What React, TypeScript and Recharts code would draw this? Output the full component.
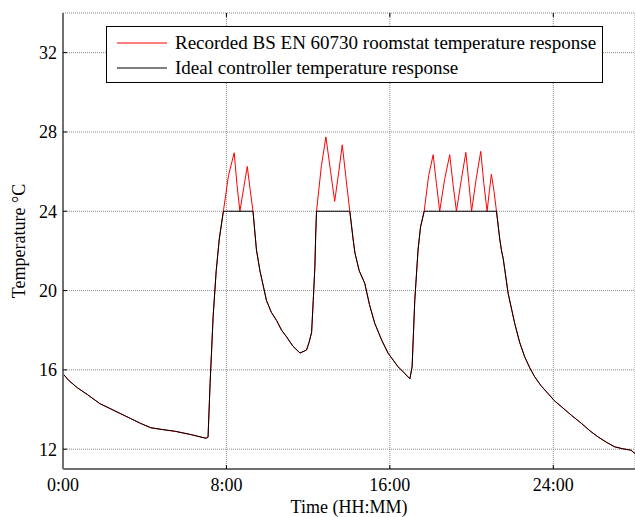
import { CartesianGrid, Legend, Line, LineChart, XAxis, YAxis } from "recharts";

// Time in hours since midnight, with the two temperature traces (°C).
const hours = [
  0, 0.3, 0.7, 1.2, 1.8, 2.3, 2.8, 3.3, 3.8, 4.3, 4.8, 5.5, 6.2, 6.6, 7.0, 7.1,
  7.2, 7.35, 7.5, 7.65, 7.85,
  8.1, 8.38, 8.52, 8.66, 8.85, 9.02, 9.16, 9.3,
  9.47, 9.64, 9.96, 10.2, 10.45, 10.7, 10.94, 11.25, 11.6, 11.92, 12.05, 12.17,
  12.25, 12.33, 12.37, 12.41,
  12.65, 12.87, 13.1, 13.3, 13.5, 13.67, 13.85, 14.04,
  14.2, 14.29, 14.5, 14.77, 15.0, 15.26, 15.6, 15.92, 16.4, 16.7, 16.98, 17.09,
  17.22, 17.38, 17.5, 17.68,
  17.9, 18.12, 18.28, 18.44, 18.68, 18.93, 19.1, 19.26, 19.5, 19.72, 19.87, 20.0,
  20.22, 20.45, 20.6, 20.76, 20.87, 20.97, 21.1, 21.22,
  21.38, 21.46, 21.55, 21.79, 22.11, 22.35, 22.6, 22.85, 23.09, 23.4, 23.74,
  24.05, 24.4, 24.9, 25.38, 25.8, 26.19, 26.6, 27.0, 27.4, 27.8, 28.0,
];

const recorded = [
  15.8, 15.45, 15.1, 14.75, 14.3, 14.05, 13.8, 13.55, 13.3, 13.08, 13.0, 12.9, 12.75, 12.65, 12.55, 12.6,
  15.3, 18.7, 21.0, 22.6, 24.0,
  25.8, 26.95, 25.3, 24.0, 25.2, 26.26, 25.1, 24.0,
  22.05, 21.0, 19.5, 18.9, 18.5, 18.0, 17.67, 17.2, 16.85, 17.0, 17.4, 17.9,
  19.5, 21.2, 22.8, 24.0,
  26.3, 27.75, 26.0, 24.5, 26.0, 27.35, 25.7, 24.0,
  22.6, 21.9, 21.0, 20.37, 19.3, 18.35, 17.5, 16.83, 16.16, 15.85, 15.55, 16.16,
  19.5, 22.05, 23.2, 24.0,
  25.8, 26.85, 25.4, 24.0, 25.6, 26.85, 25.3, 24.0, 25.6, 26.97, 25.4, 24.0,
  25.6, 27.02, 25.4, 24.0, 25.0, 25.87, 25.0, 24.0,
  22.6, 22.05, 21.6, 19.86, 18.35, 17.4, 16.66, 16.1, 15.65, 15.2, 14.81,
  14.45, 14.14, 13.7, 13.3, 12.92, 12.62, 12.35, 12.12, 12.02, 11.95, 11.78,
];

const ideal = [
  15.8, 15.45, 15.1, 14.75, 14.3, 14.05, 13.8, 13.55, 13.3, 13.08, 13.0, 12.9, 12.75, 12.65, 12.55, 12.6,
  15.3, 18.7, 21.0, 22.6, 24.0,
  24.0, 24.0, 24.0, 24.0, 24.0, 24.0, 24.0, 24.0,
  22.05, 21.0, 19.5, 18.9, 18.5, 18.0, 17.67, 17.2, 16.85, 17.0, 17.4, 17.9,
  19.5, 21.2, 22.8, 24.0,
  24.0, 24.0, 24.0, 24.0, 24.0, 24.0, 24.0, 24.0,
  22.6, 21.9, 21.0, 20.37, 19.3, 18.35, 17.5, 16.83, 16.16, 15.85, 15.55, 16.16,
  19.5, 22.05, 23.2, 24.0,
  24.0, 24.0, 24.0, 24.0, 24.0, 24.0, 24.0, 24.0, 24.0, 24.0, 24.0, 24.0,
  24.0, 24.0, 24.0, 24.0, 24.0, 24.0, 24.0, 24.0,
  22.6, 22.05, 21.6, 19.86, 18.35, 17.4, 16.66, 16.1, 15.65, 15.2, 14.81,
  14.45, 14.14, 13.7, 13.3, 12.92, 12.62, 12.35, 12.12, 12.02, 11.95, 11.78,
];

const xTicks = [0, 8, 16, 24];
const yTicks = [12, 16, 20, 24, 28, 32];

const SERIES = [
  { key: "recorded", name: "Recorded BS EN 60730 roomstat temperature response", color: "#ff0000" },
  { key: "ideal", name: "Ideal controller temperature response", color: "#000000" },
];

const FONT = "'Liberation Serif', 'Times New Roman', serif";

const data = hours.map((h, i) => ({ h, recorded: recorded[i], ideal: ideal[i] }));

function LegendBox() {
  return (
    <div
      style={{
        width: 497,
        height: 57,
        boxSizing: "border-box",
        border: "1.5px solid #000",
        background: "#fff",
        paddingTop: 3,
        paddingLeft: 10,
        fontFamily: FONT,
        fontSize: 19,
        color: "#000",
      }}
    >
      {SERIES.map((s) => (
        <div key={s.key} style={{ display: "flex", alignItems: "center", height: 25 }}>
          <svg width={50} height={4} style={{ marginRight: 8 }}>
            <line x1={0} x2={50} y1={2} y2={2} stroke={s.color} strokeWidth={1} />
          </svg>
          <span style={{ whiteSpace: "nowrap" }}>{s.name}</span>
        </div>
      ))}
    </div>
  );
}

function XLabel({ viewBox }: any) {
  return (
    <text x={viewBox.x + viewBox.width / 2} y={viewBox.y + 44} textAnchor="middle"
      fontFamily={FONT} fontSize={18} fill="#000">
      Time (HH:MM)
    </text>
  );
}

function YLabel({ viewBox }: any) {
  const cx = 25;
  const cy = viewBox.y + viewBox.height / 2;
  return (
    <text x={cx} y={cy} transform={`rotate(-90 ${cx} ${cy})`} textAnchor="middle"
      fontFamily={FONT} fontSize={18} fill="#000">
      Temperature °C
    </text>
  );
}

export default function App() {
  const tick = { fontFamily: FONT, fontSize: 18, fill: "#000" };
  return (
    <div style={{ position: "absolute", left: 0, top: 0, background: "#fff" }}>
      <LineChart width={635} height={517} data={data} margin={{ top: 12, right: 0, bottom: 18, left: 0 }}>
        <CartesianGrid stroke="#8c8c8c" strokeDasharray="1 1" xAxisId="bottom" />
        <XAxis
          xAxisId="bottom"
          dataKey="h"
          type="number"
          domain={[0, 28]}
          ticks={xTicks}
          allowDataOverflow
          height={30}
          tickFormatter={(v: number) => `${v}:00`}
          tick={tick}
          tickSize={-4}
          tickMargin={13}
          tickLine={{ stroke: "#000" }}
          axisLine={{ stroke: "#707070", strokeWidth: 2 }}
          label={<XLabel />}
        />
        <XAxis
          xAxisId="top"
          orientation="top"
          dataKey="h"
          type="number"
          domain={[0, 28]}
          ticks={xTicks}
          height={1}
          tickFormatter={() => ""}
          tickSize={-4}
          tickLine={{ stroke: "#000" }}
          axisLine={false}
        />
        <YAxis
          type="number"
          domain={[11, 34]}
          ticks={yTicks}
          width={63}
          tick={tick}
          tickSize={-4}
          tickMargin={10}
          tickLine={{ stroke: "#000" }}
          axisLine={{ stroke: "#707070", strokeWidth: 2 }}
          label={<YLabel />}
        />
        <Legend
          layout="vertical"
          align="center"
          verticalAlign="middle"
          content={<LegendBox />}
          wrapperStyle={{ position: "absolute", left: 106, top: 26, width: 497 }}
        />
        {SERIES.map((s) => (
          <Line
            key={s.key}
            xAxisId="bottom"
            dataKey={s.key}
            name={s.name}
            type="linear"
            stroke={s.color}
            strokeWidth={1}
            dot={false}
            isAnimationActive={false}
          />
        ))}
      </LineChart>
    </div>
  );
}
